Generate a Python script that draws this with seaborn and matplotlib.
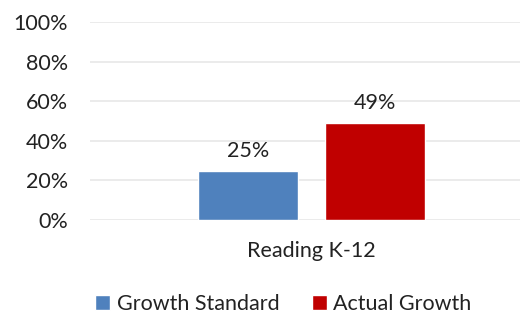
import matplotlib
matplotlib.use('Agg')
import matplotlib.pyplot as plt
import pandas as pd
import seaborn as sns
from matplotlib.ticker import FuncFormatter

# Data
categories = ['Reading K-12']
series = ['Growth Standard', 'Actual Growth']
values = [25, 49]
colors = ['#4F81BD', '#C00000']

df = pd.DataFrame({'category': categories * len(series),
                   'series': series,
                   'value': values})

sns.set_theme(style='white')
plt.rcParams['font.family'] = ['Lato', 'DejaVu Sans']

fs = 15.5
fig = plt.figure(figsize=(5.24, 3.18), dpi=100)
ax = fig.add_axes([0.172, 0.308, 0.82, 0.623])

sns.barplot(data=df, x='category', y='value', hue='series',
            palette=colors, width=0.59, gap=0.213, saturation=1,
            ax=ax, legend=True)

# Value labels above bars
for container in ax.containers:
    ax.bar_label(container, labels=[f'{v:.0f}%' for v in container.datavalues],
                 padding=7, fontsize=fs, color='#222222')

ax.set_ylim(0, 100)
ax.set_xlim(-0.515, 0.485)
ax.set_yticks(range(0, 101, 20))
ax.yaxis.set_major_formatter(FuncFormatter(lambda v, p: f'{v:.0f}%'))
ax.yaxis.grid(True, color='#E8E8E8', linewidth=1.2)
ax.set_axisbelow(True)
for s in ax.spines.values():
    s.set_visible(False)
ax.tick_params(axis='both', length=0, labelsize=fs, colors='#222222')
ax.tick_params(axis='y', pad=16)
ax.tick_params(axis='x', pad=15)
ax.set_xlabel('')
ax.set_ylabel('')

ax.legend(loc='lower center', bbox_to_anchor=(0.45, -0.57), ncol=2,
          frameon=False, fontsize=fs, handlelength=0.7, handleheight=0.7,
          handletextpad=0.3, columnspacing=1.5, labelcolor='#222222')

fig.savefig('out.png', dpi=100)
